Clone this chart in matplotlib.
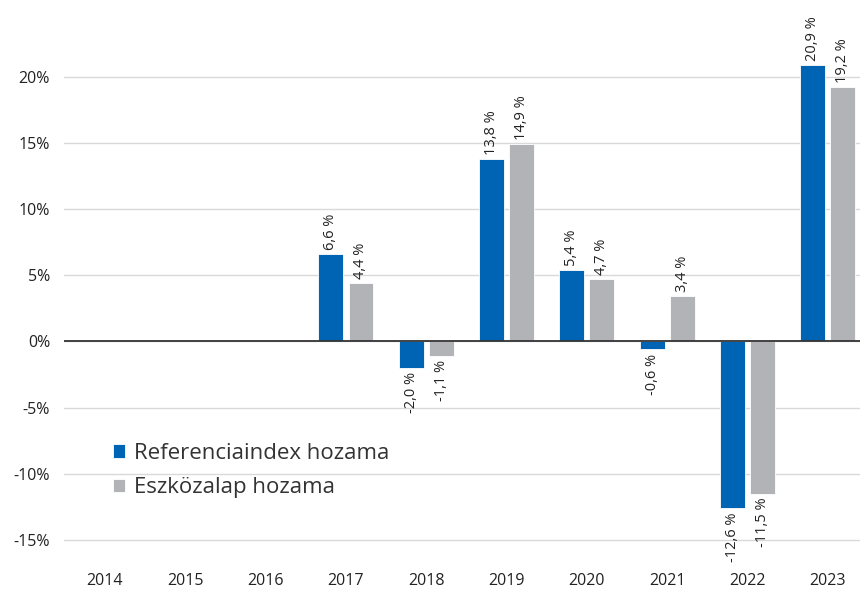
import numpy as np
import matplotlib
matplotlib.use('Agg')
import matplotlib.pyplot as plt
from matplotlib.ticker import FuncFormatter

plt.rcParams['font.family'] = ['Open Sans', 'DejaVu Sans']

years = ['2014', '2015', '2016', '2017', '2018', '2019', '2020', '2021', '2022', '2023']
referencia = [np.nan, np.nan, np.nan, 6.6, -2.0, 13.8, 5.4, -0.6, -12.6, 20.9]
eszkozalap = [np.nan, np.nan, np.nan, 4.4, -1.1, 14.9, 4.7, 3.4, -11.5, 19.2]
series_names = ['Referenciaindex hozama', 'Eszközalap hozama']
colors = ['#0064b4', '#b2b3b7']

fig = plt.figure(figsize=(8.6, 5.92), dpi=100)
ax = fig.add_axes([64 / 860, 1 - 565 / 592, 1 - 64 / 860, 565 / 592])

x = np.arange(len(years))
w = 0.31
off = 0.187

for vals, dx, c, name in zip([referencia, eszkozalap], [-off, off], colors, series_names):
    ax.bar(x + dx, vals, width=w, color=c, edgecolor='white', linewidth=0.6, label=name, zorder=3)
    for xi, v in zip(x, vals):
        if np.isnan(v):
            continue
        txt = ('%.1f %%' % v).replace('.', ',')
        if v >= 0:
            ax.annotate(txt, (xi + dx, v), xytext=(0, 3), textcoords='offset points',
                        rotation=90, ha='center', va='bottom', fontsize=10.5, color='#222222')
        else:
            ax.annotate(txt, (xi + dx, v), xytext=(0, -3), textcoords='offset points',
                        rotation=90, ha='center', va='top', fontsize=10.5, color='#222222')

ax.set_xlim(-0.51, 9.4)
ax.set_ylim(-16.9, 25.8)
ax.set_yticks([-15, -10, -5, 0, 5, 10, 15, 20])
ax.yaxis.set_major_formatter(FuncFormatter(lambda v, p: '%d%%' % v))
ax.set_xticks(x)
ax.set_xticklabels(years)
ax.tick_params(length=0, labelsize=11.5, colors='#222222')
ax.tick_params(axis='y', pad=10)
ax.tick_params(axis='x', pad=6)
ax.grid(axis='y', color='#d9d9d9', linewidth=1, zorder=0)
ax.axhline(0, color='#333333', linewidth=1.3, zorder=4)
for s in ax.spines.values():
    s.set_visible(False)

ax.legend(loc='upper left', bbox_to_anchor=(0.05, 0.232), frameon=False, fontsize=16,
          handlelength=0.55, handleheight=0.55, handletextpad=0.4, labelspacing=0.6,
          labelcolor='#333333', borderaxespad=0)

fig.savefig('out.png', dpi=100)
